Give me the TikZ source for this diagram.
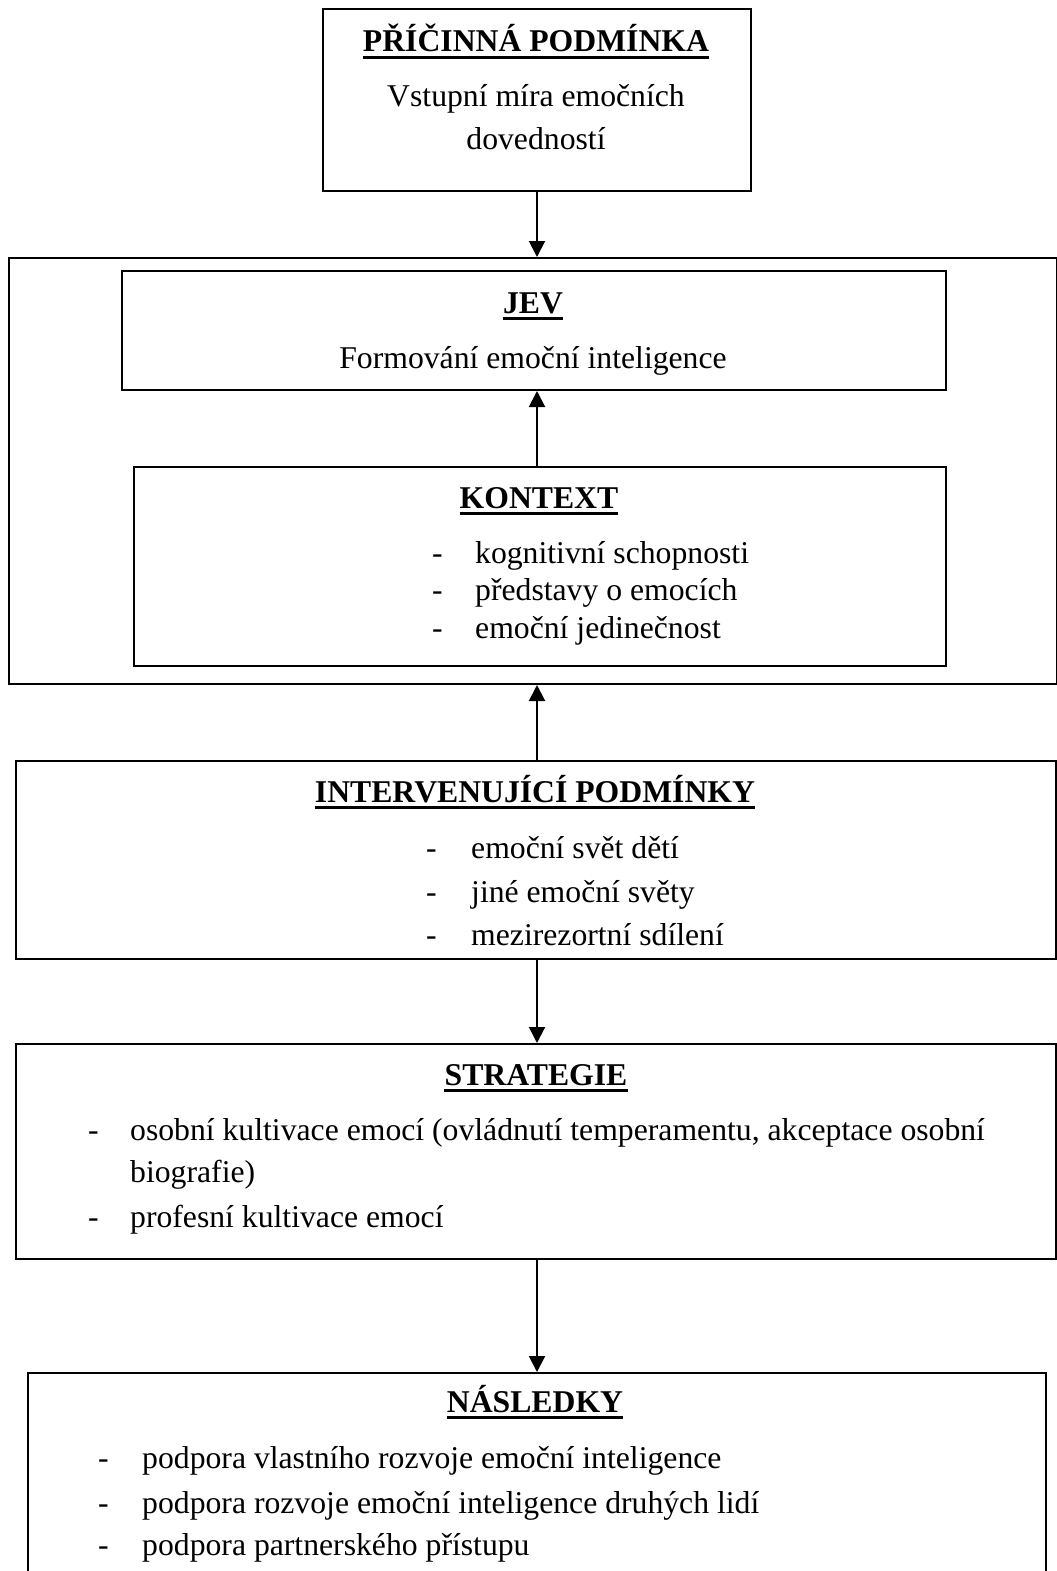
\documentclass[tikz,border=0pt]{standalone}
\usepackage{fontspec}
\setmainfont{Liberation Serif}
\usetikzlibrary{arrows.meta}
\newcommand{\ulttl}[4]{%
  \node[ttl] (#1) at (#2,#3) {#4};
  \draw[line width=2.8pt] ([yshift=-5.5pt]#1.base west) -- ([yshift=-5.5pt]#1.base east);}
\begin{document}
\begin{tikzpicture}[x=1pt,y=-1pt,
  every node/.style={inner sep=0pt, font=\fontsize{31.7}{38}\selectfont},
  box/.style={draw, line width=2pt, inner sep=0pt, anchor=north west},
  arr/.style={line width=2pt, -{Triangle[length=16pt,width=16pt]}},
  ttl/.style={font=\fontsize{31.7}{38}\selectfont\bfseries, anchor=base},
  txt/.style={anchor=base},
  item/.style={anchor=base west}]
\useasboundingbox (0,0) rectangle (1057,1571);
\clip (0,0) rectangle (1057,1571);
% boxes
\node[box, minimum width=428pt, minimum height=182pt] (cause) at (322,8) {};
\node[box, minimum width=1048pt, minimum height=426pt] (outer) at (8,257) {};
\node[box, minimum width=824pt, minimum height=119pt] (jev) at (121,270) {};
\node[box, minimum width=812pt, minimum height=199pt] (kontext) at (133,466) {};
\node[box, minimum width=1040pt, minimum height=198pt] (interv) at (15,760) {};
\node[box, minimum width=1040pt, minimum height=215pt] (strat) at (15,1043) {};
\node[box, minimum width=1018pt, minimum height=260pt] (nasl) at (27,1372) {};
% connectors
\draw[arr] (cause.south) -- (outer.north -| cause.south);
\draw[arr] (kontext.north -| cause.south) -- (jev.south -| cause.south);
\draw[arr] (interv.north -| cause.south) -- (outer.south -| cause.south);
\draw[arr] (interv.south -| cause.south) -- (strat.north -| cause.south);
\draw[arr] (strat.south -| cause.south) -- (nasl.north -| cause.south);
% cause
\ulttl{tcause}{536}{52}{PŘÍČINNÁ PODMÍNKA}
\node[txt] (c1) at (536,106) {Vstupní míra emočních};
\node[txt] (c2) at (536,149) {dovedností};
% jev
\ulttl{tjev}{533}{313}{JEV}
\node[txt] (j1) at (533,368) {Formování emoční inteligence};
% kontext
\ulttl{tkon}{539}{508}{KONTEXT}
\node[item] (k1) at (432,563) {\makebox[43pt][l]{-}kognitivní schopnosti};
\node[item] (k2) at (432,600) {\makebox[43pt][l]{-}představy o emocích};
\node[item] (k3) at (432,638) {\makebox[43pt][l]{-}emoční jedinečnost};
% intervenujici
\ulttl{tint}{535}{802}{INTERVENUJÍCÍ PODMÍNKY}
\node[item] (i1) at (426,858) {\makebox[45pt][l]{-}emoční svět dětí};
\node[item] (i2) at (426,902) {\makebox[45pt][l]{-}jiné emoční světy};
\node[item] (i3) at (426,945) {\makebox[45pt][l]{-}mezirezortní sdílení};
% strategie
\ulttl{tstr}{536}{1085}{STRATEGIE}
\node[item] (s1) at (88,1140) {\makebox[42pt][l]{-}osobní kultivace emocí (ovládnutí temperamentu, akceptace osobní};
\node[item] (s1b) at (130,1182) {biografie)};
\node[item] (s2) at (88,1227) {\makebox[42pt][l]{-}profesní kultivace emocí};
% nasledky
\ulttl{tnas}{535}{1412}{NÁSLEDKY}
\node[item] (n1) at (98,1468) {\makebox[44pt][l]{-}podpora vlastního rozvoje emoční inteligence};
\node[item] (n2) at (98,1513) {\makebox[44pt][l]{-}podpora rozvoje emoční inteligence druhých lidí};
\node[item] (n3) at (98,1555) {\makebox[44pt][l]{-}podpora partnerského přístupu};
\end{tikzpicture}
\end{document}
